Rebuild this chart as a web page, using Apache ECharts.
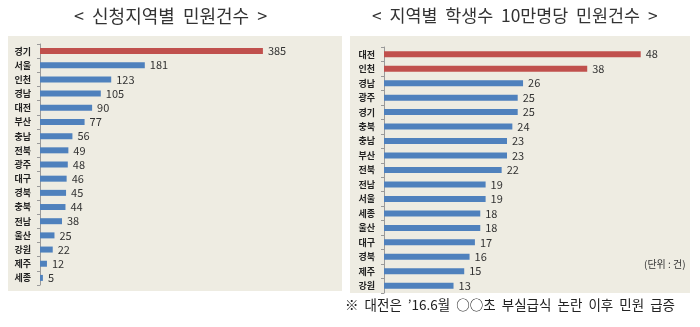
<!DOCTYPE html>
<html>
<head>
<meta charset="utf-8">
<script src="https://cdn.jsdelivr.net/npm/echarts@6/dist/echarts.min.js"></script>
<style>
  html, body { margin: 0; padding: 0; background: #ffffff; }
  #chart { width: 700px; height: 327px; }
</style>
</head>
<body>
<div id="chart"></div>
<script>
// 신청지역별 민원건수
const leftCats = ['경기','서울','인천','경남','대전','부산','충남','전북','광주','대구','경북','충북','전남','울산','강원','제주','세종'];
const leftVals = [385,181,123,105,90,77,56,49,48,46,45,44,38,25,22,12,5];
const leftHighlight = 1;   // number of leading bars drawn in red

// 지역별 학생수 10만명당 민원건수
const rightCats = ['대전','인천','경남','광주','경기','충북','충남','부산','전북','전남','서울','세종','울산','대구','경북','제주','강원'];
const rightVals = [48,38,26,25,25,24,23,23,22,19,19,18,18,17,16,15,13];
const rightHighlight = 2;

const RED = '#C0504D';
const BLUE = '#4F81BD';
const PANEL = '#EEECE2';
const FONT = '"Noto Sans CJK KR", "Noto Sans", sans-serif';

function barData(vals, nRed) {
  return vals.map((v, i) => ({ value: v, itemStyle: { color: i < nRed ? RED : BLUE } }));
}

function catAxis(gridIndex, cats) {
  return {
    type: 'category', gridIndex, data: cats, inverse: true,
    axisLine: { show: true, lineStyle: { color: '#9a9a9a', width: 1 } },
    axisTick: { show: true, length: 3, inside: false, lineStyle: { color: '#9a9a9a' } },
    axisLabel: { color: '#222', fontFamily: FONT, fontSize: 9, fontWeight: 'bold', margin: 9 }
  };
}

function valAxis(gridIndex, max) {
  return {
    type: 'value', gridIndex, min: 0, max,
    show: false, splitLine: { show: false }
  };
}

function barSeries(idx, vals, nRed) {
  return {
    type: 'bar', xAxisIndex: idx, yAxisIndex: idx,
    data: barData(vals, nRed),
    barWidth: 6,
    animation: false,
    label: {
      show: true, position: 'right', distance: 5,
      color: '#333', fontFamily: FONT, fontSize: 11
    }
  };
}

const chart = echarts.init(document.getElementById('chart'), null, { renderer: 'canvas' });
chart.setOption({
  animation: false,
  backgroundColor: '#ffffff',
  graphic: [
    { type: 'rect', shape: { x: 8, y: 36, width: 334, height: 255 }, style: { fill: PANEL }, z: -10 },
    { type: 'rect', shape: { x: 350, y: 36, width: 340, height: 257 }, style: { fill: PANEL }, z: -10 },
    { type: 'text', left: 74, top: 7,
      style: { text: '<  신청지역별  민원건수  >', font: '18px ' + FONT, fill: '#333' } },
    { type: 'text', left: 372, top: 7,
      style: { text: '<  지역별  학생수  10만명당  민원건수  >', font: '17.4px ' + FONT, fill: '#333' } },
    { type: 'text', left: 644, top: 259,
      style: { text: '(단위 : 건)', font: '10px ' + FONT, fill: '#333' } },
    { type: 'text', left: 345, top: 298,
      style: { text: '※  대전은  \u201916.6월  ○○초  부실급식  논란  이후  민원  급증', font: '13.5px ' + FONT, fill: '#222' } }
  ],
  grid: [
    { left: 40, top: 44, width: 231.6, height: 241, containLabel: false },
    { left: 384, top: 47, width: 267.4, height: 246, containLabel: false }
  ],
  xAxis: [valAxis(0, 400), valAxis(1, 50)],
  yAxis: [catAxis(0, leftCats), catAxis(1, rightCats)],
  series: [barSeries(0, leftVals, leftHighlight), barSeries(1, rightVals, rightHighlight)]
});
</script>
</body>
</html>
